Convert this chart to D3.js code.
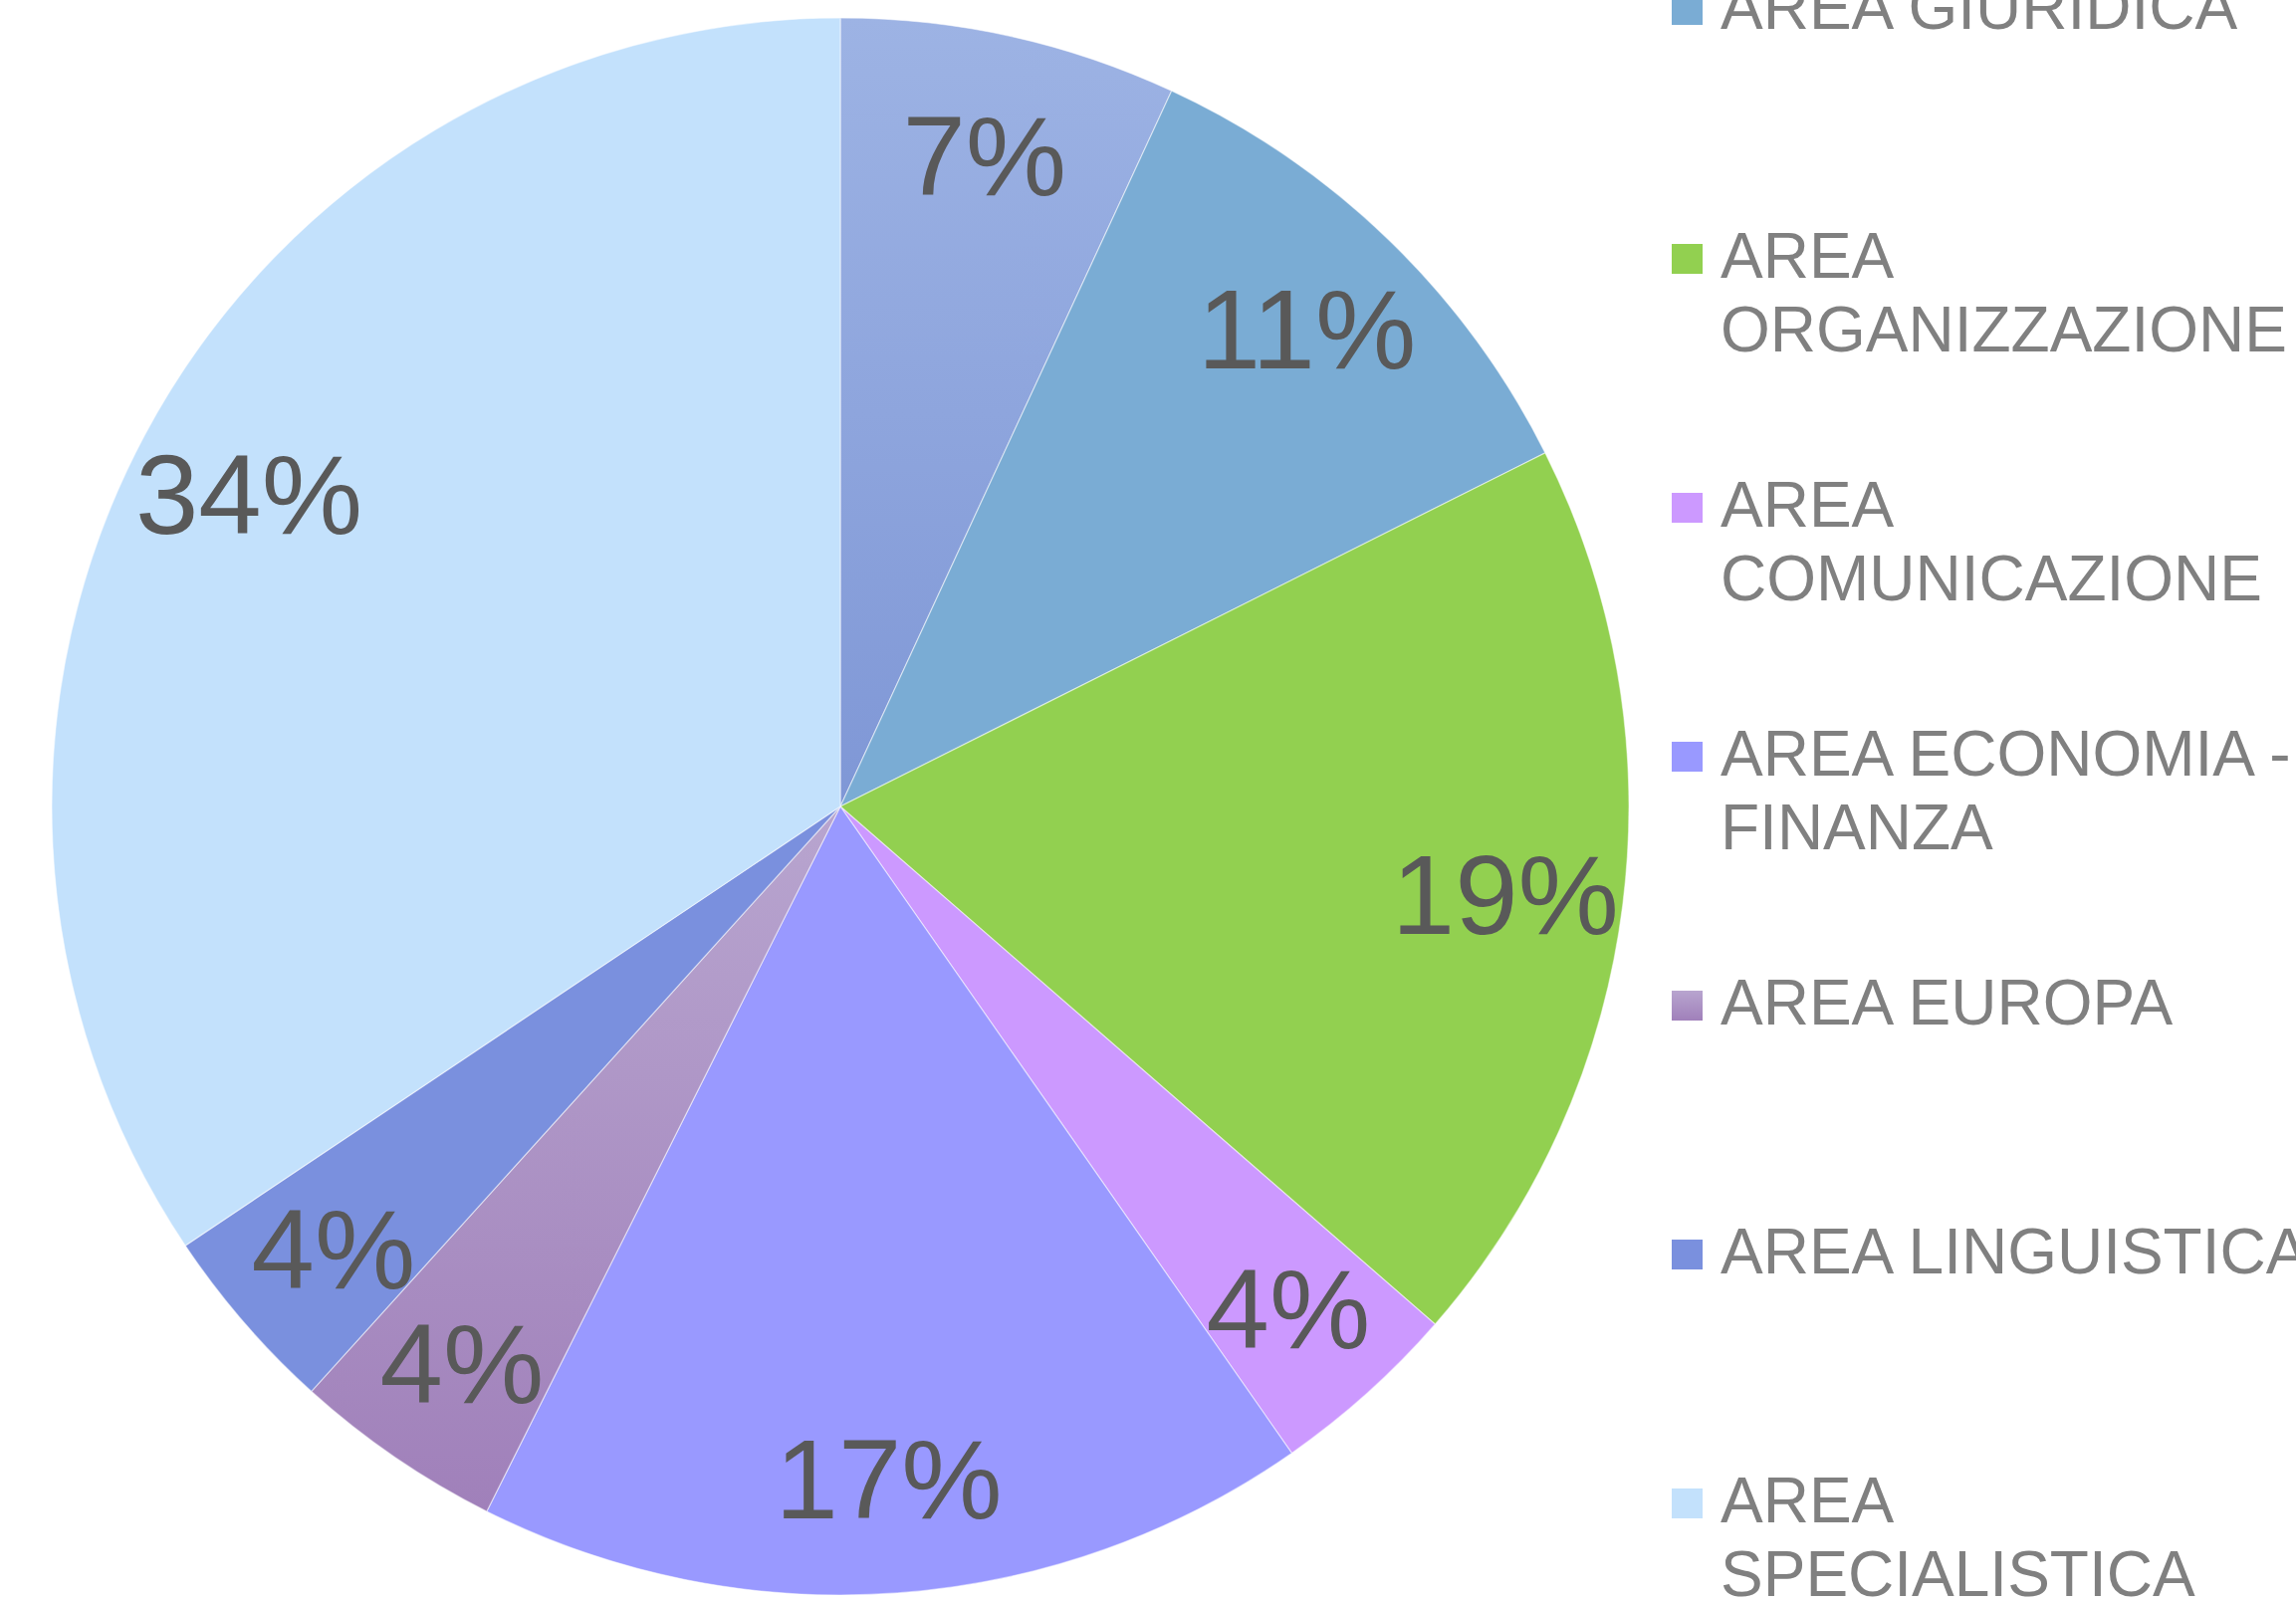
<!DOCTYPE html>
<html>
<head>
<meta charset="utf-8">
<title>Aree</title>
<script src="https://d3js.org/d3.v7.min.js"></script>
<style>
  body { margin: 0; background: #fff; }
  svg { display: block; }
  text { font-family: "Liberation Sans", Arial, sans-serif; }
</style>
</head>
<body>
<script>
// chart data (share of total, %)
var areas = ["AREA AMMINISTRATIVA", "AREA GIURIDICA", "AREA ORGANIZZAZIONE", "AREA COMUNICAZIONE",
             "AREA ECONOMIA - FINANZA", "AREA EUROPA", "AREA LINGUISTICA", "AREA SPECIALISTICA"];
var shares = [6.9, 10.7, 18.8, 3.9, 17.1, 4.3, 3.9, 34.4];
var fills = ["url(#g0)", "#7aacd4", "#92d050", "#cc99ff", "#9999ff", "url(#g5)", "#7a90de", "#c3e1fc"];

var width = 2306, height = 1608;
var cx = 844, cy = 810, radius = 792;

var svg = d3.select("body").append("svg")
    .attr("width", width)
    .attr("height", height);

// two slices have a soft vertical gradient
var defs = svg.append("defs");
var grads = [["g0", "#9db3e4", "#7f97d6"], ["g5", "#b8a5cf", "#a080ba"]];
grads.forEach(function(g) {
  var lg = defs.append("linearGradient").attr("id", g[0])
      .attr("x1", 0).attr("y1", 0).attr("x2", 0).attr("y2", 1);
  lg.append("stop").attr("offset", "0%").attr("stop-color", g[1]);
  lg.append("stop").attr("offset", "100%").attr("stop-color", g[2]);
});

var pie = d3.pie().sort(null).value(function(d) { return d; });
var arcs = pie(shares);
var total = d3.sum(shares);

var arc = d3.arc().innerRadius(0).outerRadius(radius);
var labelArc = d3.arc().innerRadius(radius * 0.85).outerRadius(radius * 0.85);

var g = svg.append("g").attr("transform", "translate(" + cx + "," + cy + ")");

g.selectAll("path.slice")
  .data(arcs)
  .enter()
  .append("path")
  .attr("class", "slice")
  .attr("d", arc)
  .style("fill", function(d, i) { return fills[i]; })
  .style("stroke", "#fff")
  .style("stroke-opacity", 0.5)
  .style("stroke-width", 1.2);

var fmt = d3.format(".0%");
g.selectAll("text.lbl")
  .data(arcs)
  .enter()
  .append("text")
  .attr("class", "lbl")
  .attr("transform", function(d) { return "translate(" + labelArc.centroid(d) + ")"; })
  .attr("text-anchor", "middle")
  .attr("dy", "0.38em")
  .style("font-size", "114px")
  .style("fill", "#595959")
  .text(function(d) { return fmt(d.value / total); });

// legend: first entry sits above the top edge, as in the original crop
var step = 250, base0 = 29 - step, lineH = 73.5, wrapW = 620;
var legend = svg.append("g").attr("class", "legend");

areas.forEach(function(name, i) {
  var item = legend.append("g");
  var t = item.append("text")
      .style("font-size", "64px")
      .style("fill", "#808080");

  // greedy word wrap
  var words = name.split(" "), lines = [], cur = "";
  words.forEach(function(w) {
    var test = cur ? cur + " " + w : w;
    t.text(test);
    if (cur && t.node().getComputedTextLength() > wrapW) { lines.push(cur); cur = w; }
    else cur = test;
  });
  lines.push(cur);
  t.text(null);

  var base = base0 + step * i;

  item.append("rect")
    .attr("x", 1679)
    .attr("y", base - 34)
    .attr("width", 31)
    .attr("height", 30)
    .style("fill", fills[i]);

  lines.forEach(function(l, k) {
    t.append("tspan").attr("x", 1728).attr("y", base + k * lineH).text(l);
  });
});
</script>
</body>
</html>
